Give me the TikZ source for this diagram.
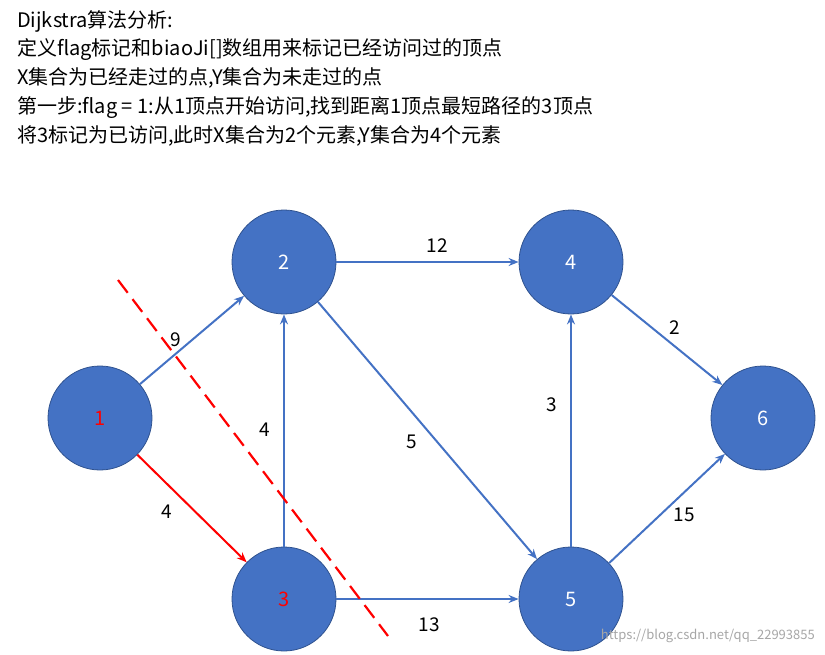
\documentclass[tikz,border=0pt]{standalone}
\usepackage{fontspec}
\setmainfont{Noto Sans CJK SC}
\usetikzlibrary{arrows.meta}
\definecolor{nblue}{HTML}{4472C4}
\definecolor{nedge}{HTML}{2F528F}
\begin{document}
\begin{tikzpicture}[x=1pt,y=-1pt,
  vtx/.style={circle,fill=nblue,draw=nedge,line width=0.8pt,minimum size=104pt,inner sep=0pt,text=white,font=\fontsize{20}{24}\selectfont},
  edg/.style={draw=nblue,line width=2pt,-{Stealth[length=10pt,width=8pt]}},
  lbl/.style={font=\fontsize{19}{22}\selectfont,text=black}]
\useasboundingbox (0,0) rectangle (825,654);
\node[anchor=north west,align=left,font=\fontsize{20}{28.8}\selectfont,inner sep=0pt] (txt) at (17,10)
{Dijkstra算法分析:\\定义flag标记和biaoJi[]数组用来标记已经访问过的顶点\\X集合为已经走过的点,Y集合为未走过的点\\第一步:flag = 1:从1顶点开始访问,找到距离1顶点最短路径的3顶点\\将3标记为已访问,此时X集合为2个元素,Y集合为4个元素};
\node[vtx,text=red] (n1) at (100,418) {1};
\node[vtx] (n2) at (284,262) {2};
\node[vtx,text=red] (n3) at (284,599) {3};
\node[vtx] (n4) at (571,262) {4};
\node[vtx] (n5) at (571,599) {5};
\node[vtx] (n6) at (763,418) {6};
\draw[edg] (n1) -- (n2);
\draw[edg,draw=red,{-{Stealth[length=10pt,width=8pt]}}] (n1) -- (n3);
\draw[edg] (n3) -- (n2);
\draw[edg] (n2) -- (n4);
\draw[edg] (n2) -- (n5);
\draw[edg] (n3) -- (n5);
\draw[edg] (n5) -- (n4);
\draw[edg] (n4) -- (n6);
\draw[edg] (n5) -- (n6);
\coordinate (d1) at (118,280);
\coordinate (d2) at (388,636);
\draw[red,line width=2.2pt,dash pattern=on 16pt off 8pt] (d1) -- (d2);
\node[lbl] (l9) at (176,340) {9};
\node[lbl] (l4a) at (167,512) {4};
\node[lbl] (l4b) at (265,430) {4};
\node[lbl] (l12) at (437,246) {12};
\node[lbl] (l5) at (412,442) {5};
\node[lbl] (l13) at (429,625) {13};
\node[lbl] (l3) at (552,405) {3};
\node[lbl] (l2) at (675,328) {2};
\node[lbl] (l15) at (684,515) {15};
\node[anchor=east,text=gray!70,font=\fontsize{13}{15}\selectfont,inner sep=0pt] (wm) at (815,636) {https://blog.csdn.net/qq\_22993855};
\end{tikzpicture}
\end{document}
